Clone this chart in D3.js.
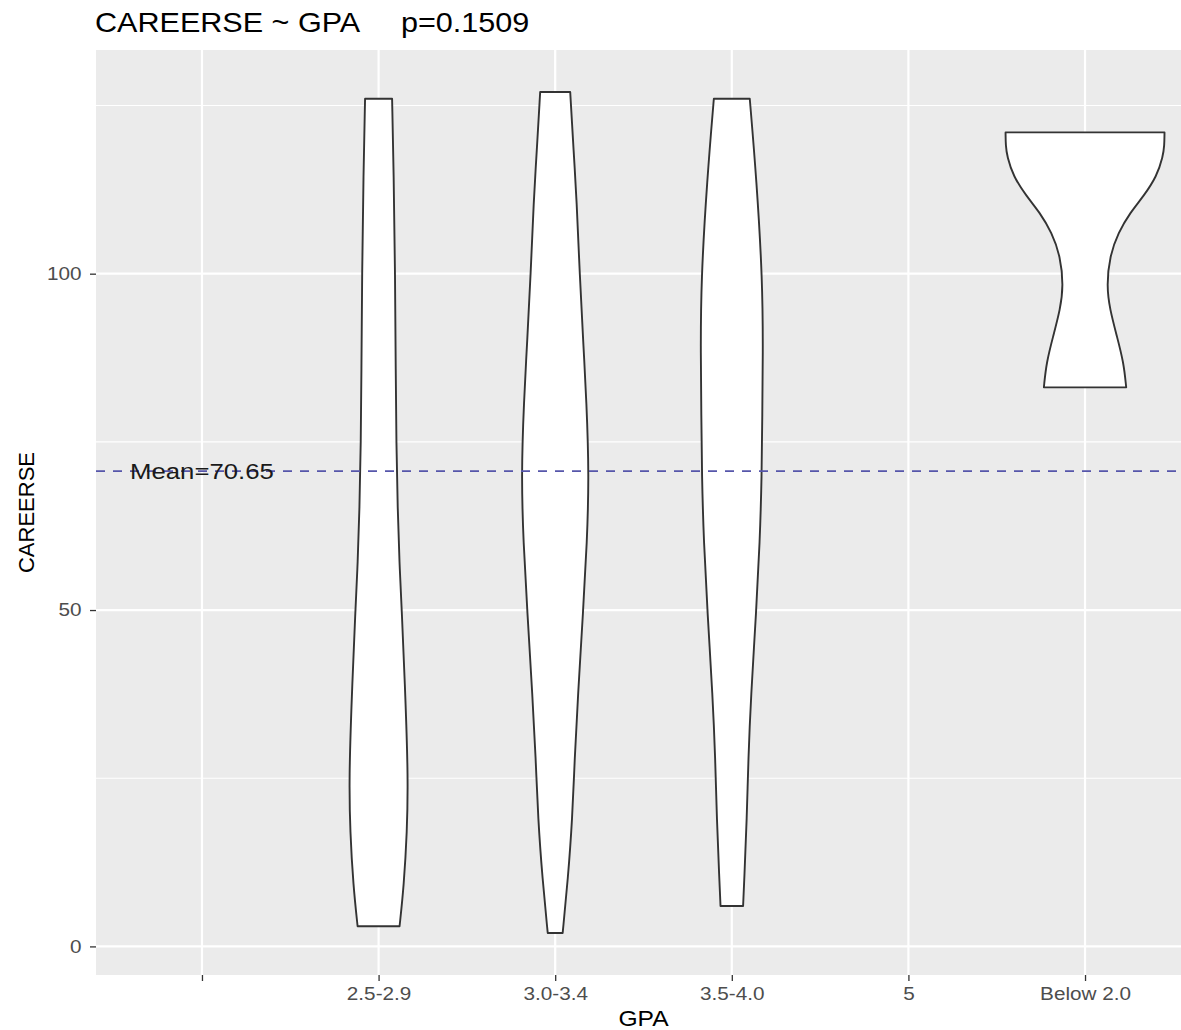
<!DOCTYPE html>
<html>
<head>
<meta charset="utf-8">
<script src="https://cdn.jsdelivr.net/npm/d3@7"></script>
<style>
  html, body { margin: 0; padding: 0; background: #ffffff; }
  svg { display: block; font-family: "Liberation Sans", Arial, Helvetica, sans-serif; }
</style>
</head>
<body>
<svg id="chart" width="1181" height="1030"></svg>
<script>
// ---- data ----
const categories = ["", "2.5-2.9", "3.0-3.4", "3.5-4.0", "5", "Below 2.0"];
const yTicks = [0, 50, 100];
const yMinorTicks = [25, 75, 125];
const meanValue = 70.65;
const titleText = "CAREERSE ~ GPA     p=0.1509";
const xTitle = "GPA";
const yTitle = "CAREERSE";

// Kernel density profiles per GPA group: [CAREERSE, relative density]
const density_25_29 = [
  [126.0, 0.170], [115, 0.190], [100, 0.208], [85, 0.216], [75, 0.223],
  [65, 0.240], [57, 0.262], [50, 0.292], [37, 0.338], [25, 0.372],
  [17, 0.358], [9, 0.318], [3.0, 0.264]
];
const density_30_34 = [
  [127.0, 0.189], [118, 0.233], [111, 0.270], [100, 0.308], [90, 0.352],
  [81, 0.394], [70, 0.426], [60, 0.400], [50, 0.352], [37, 0.285],
  [28, 0.245], [19, 0.216], [10, 0.160], [2.0, 0.094]
];
const density_35_40 = [
  [126.0, 0.226], [114, 0.311], [99, 0.387], [88, 0.392], [79, 0.383],
  [70, 0.377], [60, 0.352], [50, 0.308], [37, 0.240], [28, 0.208],
  [19, 0.189], [10, 0.157], [6.0, 0.142]
];
const density_below20 = [
  [121.0, 1.000], [119.0, 0.998], [117.4, 0.980], [114.5, 0.904], [111.5, 0.736],
  [109.1, 0.569], [106.1, 0.418], [102.6, 0.310], [98.2, 0.272], [94.7, 0.312],
  [90.7, 0.401], [86.8, 0.486], [83.1, 0.518]
];

const violinGroups = [
  { gpa: "2.5-2.9", profile: density_25_29 },
  { gpa: "3.0-3.4", profile: density_30_34 },
  { gpa: "3.5-4.0", profile: density_35_40 },
  { gpa: "Below 2.0", profile: density_below20 }
];

// ---- layout ----
const panel = { left: 96, right: 1191, top: 50, bottom: 975 };
const sx = 1.12; // horizontal text stretch
const svg = d3.select("#chart");

const allVals = violinGroups.flatMap(g => g.profile.map(d => d[0]));
const [vMin, vMax] = d3.extent(allVals);
const pad = (vMax - vMin) * 0.05;

const y = d3.scaleLinear().domain([vMin - pad, vMax + pad]).range([panel.bottom, panel.top]);
const x = d3.scalePoint().domain(categories).range([panel.left, panel.right]).padding(0.6);
const step = x.step();
const maxDensity = d3.max(violinGroups, g => d3.max(g.profile, d => d[1]));
const w = d3.scaleLinear().domain([0, maxDensity]).range([0, step * 0.45]);

// panel background
svg.append("rect")
  .attr("x", panel.left).attr("y", panel.top)
  .attr("width", panel.right - panel.left).attr("height", panel.bottom - panel.top)
  .attr("fill", "#EBEBEB");

// grid
const grid = svg.append("g");
grid.selectAll(".minor").data(yMinorTicks).join("line")
  .attr("x1", panel.left).attr("x2", panel.right)
  .attr("y1", d => y(d)).attr("y2", d => y(d))
  .attr("stroke", "#ffffff").attr("stroke-width", 1.2);
grid.selectAll(".major").data(yTicks).join("line")
  .attr("x1", panel.left).attr("x2", panel.right)
  .attr("y1", d => y(d)).attr("y2", d => y(d))
  .attr("stroke", "#ffffff").attr("stroke-width", 2.2);
grid.selectAll(".vmajor").data(categories).join("line")
  .attr("x1", d => x(d)).attr("x2", d => x(d))
  .attr("y1", panel.top).attr("y2", panel.bottom)
  .attr("stroke", "#ffffff").attr("stroke-width", 2.2);

// violins: smooth outline on both sides of each group's centre
const area = d3.area()
  .curve(d3.curveBasis)
  .y(d => y(d[0]));

svg.append("g").selectAll("path").data(violinGroups).join("path")
  .attr("d", g => {
    const cx = x(g.gpa);
    return area.x0(d => cx - w(d[1])).x1(d => cx + w(d[1]))(g.profile);
  })
  .attr("fill", "#ffffff")
  .attr("stroke", "#333333")
  .attr("stroke-width", 1.9)
  .attr("stroke-linejoin", "round");

// mean reference line and label
svg.append("line")
  .attr("x1", panel.left).attr("x2", panel.right)
  .attr("y1", y(meanValue)).attr("y2", y(meanValue))
  .attr("stroke", "#5656aa").attr("stroke-width", 1.6)
  .attr("stroke-dasharray", "9,8");

svg.append("text")
  .attr("transform", `translate(${x(categories[0])},${y(meanValue)}) scale(${sx},1)`)
  .attr("text-anchor", "middle").attr("dy", "0.36em")
  .attr("font-size", 23).attr("fill", "#1a1a1a")
  .text(`Mean=${meanValue}`);

// axes
const yAxis = svg.append("g")
  .attr("transform", `translate(${panel.left},0)`)
  .call(d3.axisLeft(y).tickValues(yTicks).tickSize(6).tickPadding(7));
const xAxis = svg.append("g")
  .attr("transform", `translate(0,${panel.bottom})`)
  .call(d3.axisBottom(x).tickSize(6).tickPadding(6));

[yAxis, xAxis].forEach(ax => {
  ax.select(".domain").remove();
  ax.selectAll(".tick line").attr("stroke", "#333333").attr("stroke-width", 1.3);
  ax.selectAll(".tick text")
    .attr("fill", "#4D4D4D")
    .attr("font-size", 18.5)
    .attr("font-family", "Liberation Sans, Arial, sans-serif")
    .attr("transform", `scale(${sx},1)`);
});

// titles
svg.append("text")
  .attr("transform", `translate(95,32) scale(${sx},1)`)
  .attr("xml:space", "preserve")
  .style("white-space", "pre")
  .attr("font-size", 27.3).attr("fill", "#000000")
  .text(titleText);

svg.append("text")
  .attr("transform", `translate(${(panel.left + panel.right) / 2},1026) scale(${sx},1)`)
  .attr("text-anchor", "middle")
  .attr("font-size", 22).attr("fill", "#000000")
  .text(xTitle);

svg.append("text")
  .attr("transform", `translate(34,${(panel.top + panel.bottom) / 2}) rotate(-90)`)
  .attr("text-anchor", "middle")
  .attr("font-size", 22).attr("fill", "#000000")
  .text(yTitle);
</script>
</body>
</html>
